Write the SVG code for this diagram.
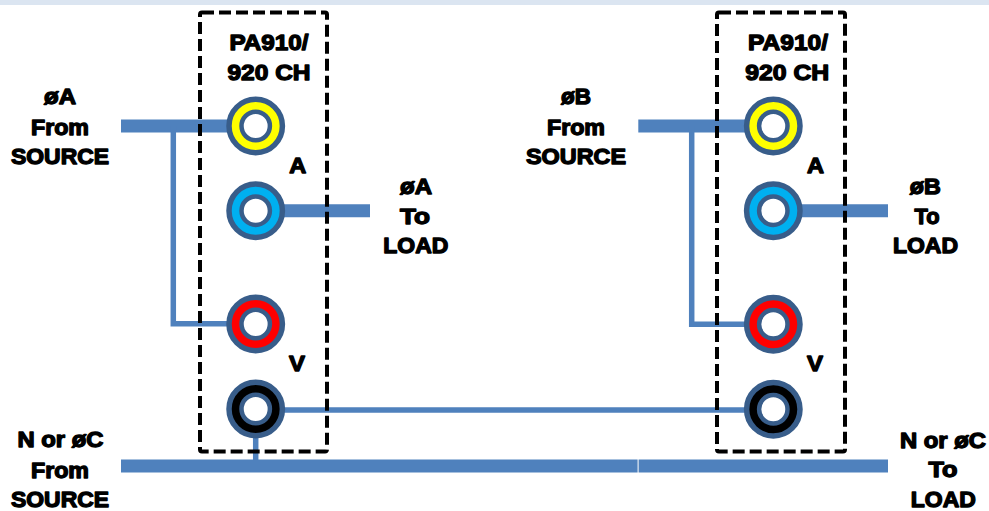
<svg xmlns="http://www.w3.org/2000/svg" width="989" height="511" viewBox="0 0 989 511">
<style>
.t{font-family:"Liberation Sans",Arial,sans-serif;font-weight:bold;font-size:21.5px;fill:#000;stroke:#000;stroke-width:1.3;stroke-linejoin:round;text-anchor:middle}
.box{fill:none;stroke:#000;stroke-width:4;stroke-dasharray:12 5}
.w{stroke:#4f81bd;fill:none}
.thick{stroke-width:13}
.thin{stroke-width:5.5}
.ring{stroke:#385d8a;stroke-width:5.5}
.hole{fill:#fff;stroke:#385d8a;stroke-width:4.5}
</style>
<rect x="0" y="0" width="989" height="5" fill="#dbe5f1"/>
<g id="connectors">
  <line class="w thick" x1="121" y1="126" x2="240" y2="126"/>
  <polyline class="w thin" points="173.3,126 173.3,323.8 240,323.8"/>
  <line class="w thick" x1="270" y1="210.7" x2="370" y2="210.7"/>
  <line class="w thin" x1="270" y1="410" x2="760" y2="410"/>
  <line class="w thin" x1="255.7" y1="420" x2="255.7" y2="466"/>
  <line class="w thick" x1="121" y1="466" x2="637.6" y2="466"/>
  <line class="w thick" x1="638.6" y1="466" x2="888" y2="466"/>
  <line class="w thick" x1="638.3" y1="126" x2="760" y2="126"/>
  <polyline class="w thin" points="691.7,126 691.7,324.3 760,324.3"/>
  <line class="w thick" x1="785" y1="210.7" x2="888" y2="210.7"/>
</g>
<g id="module-left">
  <rect class="box" x="200" y="12.5" width="127" height="439" rx="2"/>
  <text class="t" x="269" y="49.5" textLength="79" lengthAdjust="spacingAndGlyphs">PA910/</text>
  <text class="t" x="269" y="80" textLength="83" lengthAdjust="spacingAndGlyphs">920 CH</text>
  <text class="t" x="297.7" y="173.3" textLength="17" lengthAdjust="spacingAndGlyphs">A</text>
  <text class="t" x="297" y="371" textLength="16" lengthAdjust="spacingAndGlyphs">V</text>
</g>
<g id="term-left-yellow"><circle class="ring" cx="255.7" cy="126" r="26.7" fill="#ffff00"/><circle class="hole" cx="255.7" cy="126" r="14.2"/></g>
<g id="term-left-blue"><circle class="ring" cx="255.7" cy="210.7" r="26.7" fill="#00b0f0"/><circle class="hole" cx="255.7" cy="210.7" r="14.2"/></g>
<g id="term-left-red"><circle class="ring" cx="255.7" cy="324" r="26.7" fill="#ff0000"/><circle class="hole" cx="255.7" cy="324" r="14.2"/></g>
<g id="term-left-black"><circle class="ring" cx="255.7" cy="409" r="26.7" fill="#000000"/><circle class="hole" cx="255.7" cy="409" r="14.2"/></g>
<g id="module-right">
  <rect class="box" x="717" y="12.5" width="128" height="439" rx="2"/>
  <text class="t" x="788" y="49.5" textLength="80" lengthAdjust="spacingAndGlyphs">PA910/</text>
  <text class="t" x="787.2" y="80" textLength="84" lengthAdjust="spacingAndGlyphs">920 CH</text>
  <text class="t" x="815.5" y="173.3" textLength="17" lengthAdjust="spacingAndGlyphs">A</text>
  <text class="t" x="815" y="371" textLength="16" lengthAdjust="spacingAndGlyphs">V</text>
</g>
<g id="term-right-yellow"><circle class="ring" cx="773.3" cy="126" r="26.7" fill="#ffff00"/><circle class="hole" cx="773.3" cy="126" r="14.2"/></g>
<g id="term-right-blue"><circle class="ring" cx="773.3" cy="210.7" r="26.7" fill="#00b0f0"/><circle class="hole" cx="773.3" cy="210.7" r="14.2"/></g>
<g id="term-right-red"><circle class="ring" cx="773.3" cy="324.3" r="26.7" fill="#ff0000"/><circle class="hole" cx="773.3" cy="324.3" r="14.2"/></g>
<g id="term-right-black"><circle class="ring" cx="773.3" cy="409.3" r="26.7" fill="#000000"/><circle class="hole" cx="773.3" cy="409.3" r="14.2"/></g>
<g id="label-a-source">
  <text class="t" x="60" y="104" textLength="32" lengthAdjust="spacingAndGlyphs">øA</text>
  <text class="t" x="60" y="134.7" textLength="58" lengthAdjust="spacingAndGlyphs">From</text>
  <text class="t" x="60" y="164.3" textLength="98" lengthAdjust="spacingAndGlyphs">SOURCE</text>
</g>
<g id="label-a-load">
  <text class="t" x="416" y="194" textLength="32" lengthAdjust="spacingAndGlyphs">øA</text>
  <text class="t" x="415" y="224" textLength="30" lengthAdjust="spacingAndGlyphs">To</text>
  <text class="t" x="415.8" y="253" textLength="65" lengthAdjust="spacingAndGlyphs">LOAD</text>
</g>
<g id="label-b-source">
  <text class="t" x="576" y="104" textLength="30" lengthAdjust="spacingAndGlyphs">øB</text>
  <text class="t" x="576" y="134.7" textLength="58" lengthAdjust="spacingAndGlyphs">From</text>
  <text class="t" x="576" y="164.3" textLength="100" lengthAdjust="spacingAndGlyphs">SOURCE</text>
</g>
<g id="label-b-load">
  <text class="t" x="925.3" y="193.5" textLength="31" lengthAdjust="spacingAndGlyphs">øB</text>
  <text class="t" x="927" y="224" textLength="25" lengthAdjust="spacingAndGlyphs">To</text>
  <text class="t" x="925.5" y="253" textLength="65" lengthAdjust="spacingAndGlyphs">LOAD</text>
</g>
<g id="label-n-source">
  <text class="t" x="60.5" y="447.3" textLength="86" lengthAdjust="spacingAndGlyphs">N or øC</text>
  <text class="t" x="60" y="477.7" textLength="58" lengthAdjust="spacingAndGlyphs">From</text>
  <text class="t" x="60" y="506.5" textLength="98" lengthAdjust="spacingAndGlyphs">SOURCE</text>
</g>
<g id="label-n-load">
  <text class="t" x="943" y="447.7" textLength="86" lengthAdjust="spacingAndGlyphs">N or øC</text>
  <text class="t" x="943" y="477.3" textLength="29" lengthAdjust="spacingAndGlyphs">To</text>
  <text class="t" x="943.3" y="506.5" textLength="65" lengthAdjust="spacingAndGlyphs">LOAD</text>
</g>
</svg>
